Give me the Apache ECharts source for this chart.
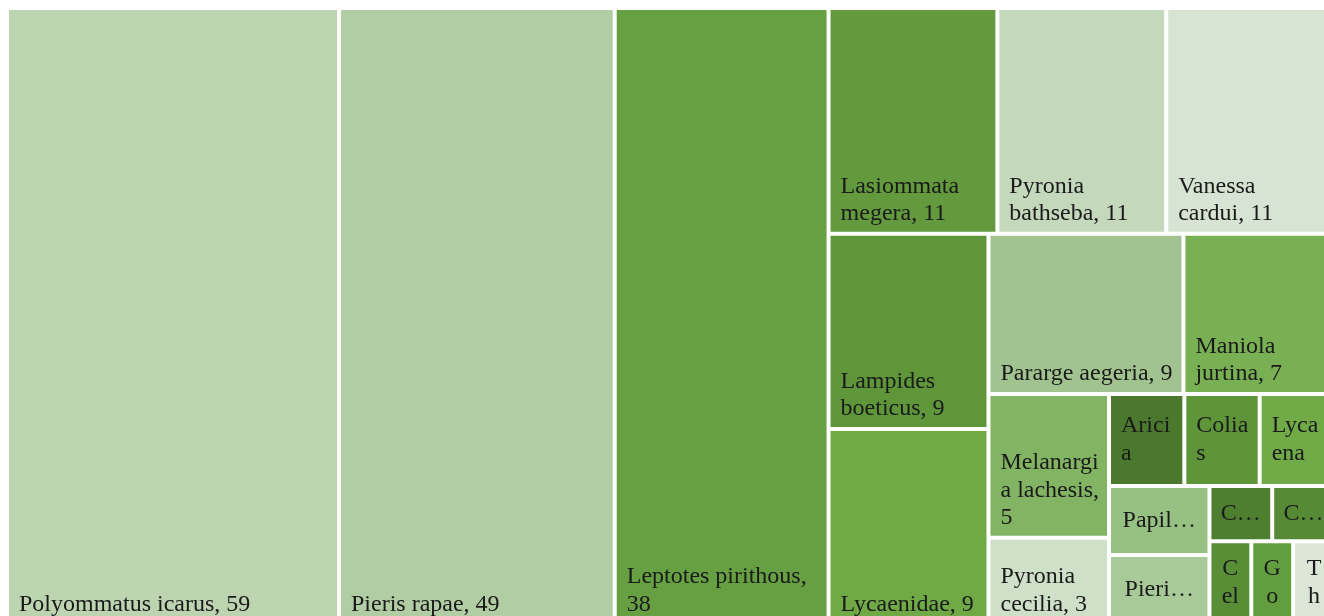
<!DOCTYPE html>
<html>
<head>
<meta charset="utf-8">
<script src="https://cdn.jsdelivr.net/npm/echarts@6/dist/echarts.min.js"></script>
<style>
  html, body { margin: 0; padding: 0; background: #fff; }
  #chart { width: 1324px; height: 616px; }
</style>
</head>
<body>
<div id="chart"></div>
<script>
// butterfly counts
var species = [
  'Polyommatus icarus', 'Pieris rapae', 'Leptotes pirithous',
  'Lasiommata megera', 'Pyronia bathseba', 'Vanessa cardui',
  'Lampides boeticus', 'Lycaenidae', 'Pararge aegeria', 'Maniola jurtina',
  'Melanargia lachesis', 'Pyronia cecilia',
  'Aricia agestis', 'Colias crocea', 'Lycaena phlaeas',
  'Papilio machaon', 'Pieris brassicae',
  'Carcharodus alceae', 'Coenonympha pamphilus',
  'Celastrina argiolus', 'Gonepteryx cleopatra', 'Thymelicus acteon'
];
var counts = [59, 49, 38, 11, 11, 11, 9, 9, 9, 7, 5, 3, 2, 2, 2, 2, 2, 1, 1, 1, 1, 1];

// cell colours, same order as species
var cellColors = [
  '#bdd4b1', '#b0cda3', '#67a043',
  '#639a3e', '#c4d8bb', '#d8e4d3',
  '#5f963a', '#6faa46', '#a1c38f', '#78b053',
  '#82b464', '#cfe0c8',
  '#4a792d', '#5f9539', '#70ab48',
  '#96c182', '#a8ca99',
  '#4e7f30', '#568a34',
  '#588e36', '#639e3e', '#dce6d7'
];

// grouping of the cells (indexes into species), so the tiles split like the original
var grouping = [0, [1, [2, [[3, 4, 5], [[6, 7], [[8, 9], [[10, 11], [[12, 13, 14], [[15, 16], [[17, 18], [19, 20, 21]]]]]]]]]]];

// label tweaks for some tiles
var labelTweaks = {
  5: { padding: [0, 10, 4, 10] },
  12: { position: 'insideLeft', padding: [4, 6, 4, 10] },
  13: { position: 'insideLeft', padding: [4, 6, 4, 10] },
  14: { position: 'insideLeft', padding: [4, 6, 4, 10] },
  15: { position: 'inside', overflow: 'truncate', padding: [0, 10, 0, 10] },
  16: { position: 'inside', overflow: 'truncate', padding: [0, 10, 0, 10] },
  17: { position: 'inside', overflow: 'truncate', padding: [0, 6, 0, 6] },
  18: { position: 'inside', overflow: 'truncate', padding: [0, 6, 0, 6] },
  19: { position: 'inside', padding: [0, 8, 0, 8] },
  20: { position: 'inside', padding: [0, 8, 0, 8] },
  21: { position: 'inside', padding: [0, 8, 0, 8] }
};

function build(g) {
  if (typeof g === 'number') {
    var leaf = {
      name: species[g],
      value: counts[g],
      itemStyle: { color: cellColors[g], borderWidth: 2, borderColor: '#fff' }
    };
    if (labelTweaks[g]) leaf.label = labelTweaks[g];
    return leaf;
  }
  var children = g.map(build);
  var sum = 0;
  children.forEach(function (c) { sum += c.value; });
  return { name: '', value: sum, children: children, itemStyle: { borderWidth: 0, gapWidth: 0 } };
}

var chart = echarts.init(document.getElementById('chart'));
var option = {
  backgroundColor: '#fff',
  animation: false,
  series: [{
    type: 'treemap',
    left: 7,
    top: 8,
    width: 1328,
    height: 616,
    roam: false,
    nodeClick: false,
    sort: false,
    squareRatio: 0.05,
    breadcrumb: { show: false },
    itemStyle: { borderWidth: 0, gapWidth: 0, borderColor: '#fff' },
    label: {
      show: true,
      position: 'insideBottomLeft',
      distance: 0,
      padding: [0, 1, 4, 10],
      fontFamily: 'Liberation Serif',
      fontSize: 24,
      lineHeight: 27.5,
      color: '#1a1a1a',
      overflow: 'break',
      ellipsis: '…',
      formatter: '{b}, {c}'
    },
    upperLabel: { show: false },
    emphasis: { disabled: true },
    data: build(grouping).children
  }]
};
chart.setOption(option);
</script>
</body>
</html>
